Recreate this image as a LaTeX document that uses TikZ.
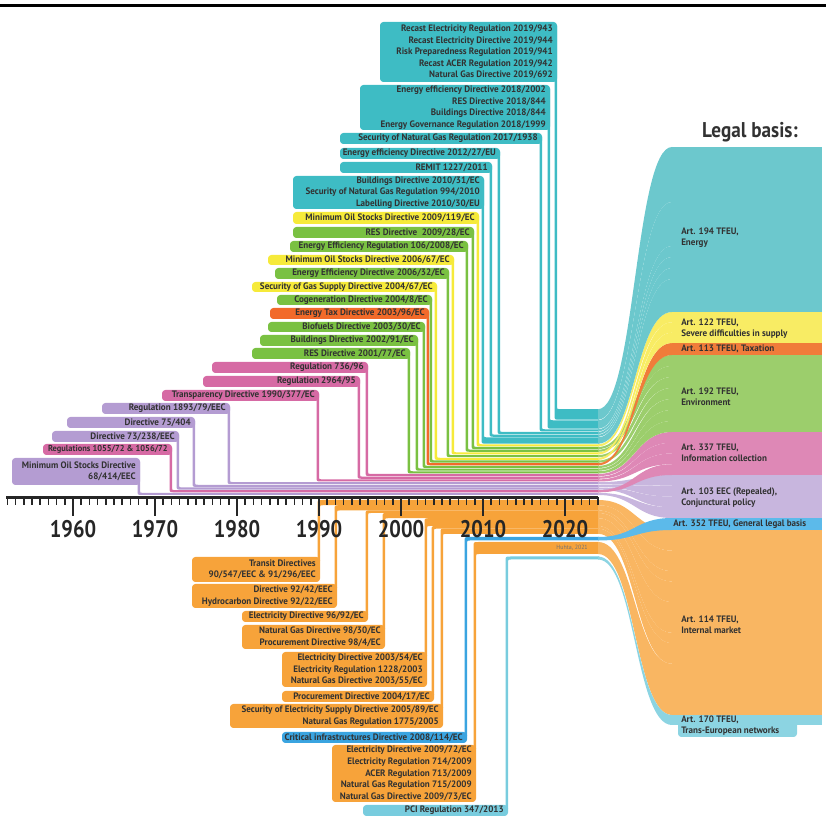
\documentclass[tikz,border=0pt]{standalone}
\usepackage{fontspec}
\setmainfont{PT Sans}
\newfontfamily\lblfont{PT Sans}[FakeStretch=0.97]
\newfontfamily\yrfont{PT Sans}[FakeStretch=0.85]
\newfontfamily\headfont{PT Sans}[FakeStretch=0.9]
\definecolor{txt}{RGB}{50,50,50}
\definecolor{tealB}{RGB}{62,188,196}
\definecolor{tealR}{RGB}{108,200,205}
\definecolor{yelB}{RGB}{246,234,58}
\definecolor{yelR}{RGB}{248,236,100}
\definecolor{grnB}{RGB}{122,193,66}
\definecolor{grnR}{RGB}{156,206,108}
\definecolor{orgB}{RGB}{242,106,42}
\definecolor{orgR}{RGB}{240,124,58}
\definecolor{pnkB}{RGB}{214,106,164}
\definecolor{pnkR}{RGB}{222,136,182}
\definecolor{purB}{RGB}{180,156,210}
\definecolor{purR}{RGB}{200,182,222}
\definecolor{bluB}{RGB}{58,164,224}
\definecolor{bluR}{RGB}{92,186,234}
\definecolor{omB}{RGB}{247,163,58}
\definecolor{omR}{RGB}{249,182,98}
\definecolor{lbB}{RGB}{120,204,222}
\definecolor{lbR}{RGB}{140,212,226}
\tikzset{
  lbl/.style={font=\lblfont\bfseries\fontsize{7.0}{8.7}\selectfont, text=txt, inner sep=0pt, align=right},
  art/.style={font=\lblfont\bfseries\fontsize{7.0}{8.4}\selectfont, text=txt, inner sep=0pt, align=left, anchor=west},
  yr/.style={font=\yrfont\bfseries\fontsize{18}{20}\selectfont, text=black!85, inner sep=0pt},
  minortick/.style={line width=1.1pt, black!85},
  majortick/.style={line width=1.9pt, black!85},
}
% top item: name, colour, L, R, box top, box bottom, band top, band bottom, text
\newcommand\TopItem[9]{%
  \fill[#2] ({#4-2.5},{#5+4}) -- ({#4-2.5},{#8-5}) .. controls ({#4-2.5},#8) .. ({#4+2.5},#8) -- (599,#8) -- (599,#7) -- ({#4+3},#7) .. controls (#4,#7) .. (#4,{#7-3}) -- (#4,{#5+4}) -- cycle;
  \fill[#2, rounded corners=2.5pt] (#3,#5) rectangle (#4,#6);
  \node[lbl, anchor=east] (#1) at ({#4-4},{(#5+#6)/2}) {#9};
}
\newcommand\BotItem[9]{%
  \fill[#2] ({#4-2.5},{#5+4}) -- ({#4-2.5},{#7+5}) .. controls ({#4-2.5},#7) .. ({#4+2.5},#7) -- (599,#7) -- (599,#8) -- ({#4+3},#8) .. controls (#4,#8) .. (#4,{#8+3}) -- (#4,{#5+4}) -- cycle;
  \fill[#2, rounded corners=2.5pt] (#3,#5) rectangle (#4,#6);
  \node[lbl, anchor=east] (#1) at ({#4-4},{(#5+#6)/2}) {#9};
}
% ribbon: colour, left top, left bottom, right top, right bottom
\newcommand\Rib[5]{%
  \fill[#1] (598,#2) .. controls (635,#2) and (635,#4) .. (672,#4) -- (672,#5) .. controls (635,#5) and (635,#3) .. (598,#3) -- cycle;
}
\begin{document}
\begin{tikzpicture}[x=0.75pt,y=-0.75pt]
\useasboundingbox (0,0) rectangle (826,823);
\fill[black] (0,4) rectangle (826,7.5);

% ---------- items above the axis ----------
\TopItem{t1}{tealB}{380}{557}{22}{82}{409.2}{419.7}{Recast Electricity Regulation 2019/943\\Recast Electricity Directive 2019/944\\Risk Preparedness Regulation 2019/941\\Recast ACER Regulation 2019/942\\Natural Gas Directive 2019/692}
\TopItem{t2}{tealB}{360}{550}{85}{130}{420.3}{428.7}{Energy efficiency Directive 2018/2002\\RES Directive 2018/844\\Buildings Directive 2018/844\\Energy Governance Regulation 2018/1999}
\TopItem{t3}{tealB}{340}{542}{133}{144}{429.3}{431.4}{Security of Natural Gas Regulation 2017/1938}
\TopItem{t4}{tealB}{340}{500}{148}{159}{432.0}{434.1}{Energy efficiency Directive 2012/27/EU}
\TopItem{t5}{tealB}{340}{492}{162}{173}{434.7}{436.8}{REMIT 1227/2011}
\TopItem{t6}{tealB}{293}{484}{176}{209}{437.4}{443.7}{Buildings Directive 2010/31/EC\\Security of Natural Gas Regulation 994/2010\\Labelling Directive 2010/30/EU}
\TopItem{t7}{yelB}{293}{479}{212}{224}{444.3}{446.4}{Minimum Oil Stocks Directive 2009/119/EC}
\TopItem{t8}{grnB}{293}{474}{227}{238}{447.0}{449.1}{RES Directive\ \ 2009/28/EC}
\TopItem{t9}{grnB}{290}{468}{241}{252}{449.7}{451.8}{Energy Efficiency Regulation 106/2008/EC}
\TopItem{t10}{yelB}{268}{454}{255}{265}{452.4}{454.5}{Minimum Oil Stocks Directive 2006/67/EC}
\TopItem{t11}{grnB}{275}{449}{268}{279}{455.1}{457.2}{Energy Efficiency Directive 2006/32/EC}
\TopItem{t12}{yelB}{252}{437}{282}{292}{457.8}{459.9}{Security of Gas Supply Directive 2004/67/EC}
\TopItem{t13}{grnB}{277}{432}{295}{305}{460.5}{462.6}{Cogeneration Directive 2004/8/EC}
\TopItem{t14}{orgB}{270}{429}{308}{319}{463.2}{465.3}{Energy Tax Directive 2003/96/EC}
\TopItem{t15}{grnB}{268}{425}{322}{332}{465.9}{468.0}{Biofuels Directive 2003/30/EC}
\TopItem{t16}{grnB}{260}{418}{335}{346}{468.6}{470.7}{Buildings Directive 2002/91/EC}
\TopItem{t17}{grnB}{252}{410}{348}{359}{471.3}{473.4}{RES Directive 2001/77/EC}
\TopItem{t18}{pnkB}{212}{368}{362}{373}{474.0}{476.1}{Regulation 736/96}
\TopItem{t19}{pnkB}{203}{360}{376}{387}{476.7}{478.8}{Regulation 2964/95}
\TopItem{t20}{pnkB}{162}{319}{390}{401}{479.4}{481.5}{Transparency Directive 1990/377/EC}
\TopItem{t21}{purB}{102}{230}{403}{414}{482.1}{484.2}{Regulation 1893/79/EEC}
\TopItem{t22}{purB}{67}{195}{417}{428}{484.8}{486.9}{Directive 75/404}
\TopItem{t23}{purB}{52}{179}{431}{442}{487.5}{489.6}{Directive 73/238/EEC}
\TopItem{t24}{pnkB}{43}{172}{444}{455}{490.2}{492.3}{\fontsize{6.5}{8}\selectfont Regulations 1055/72 \& 1056/72}
\TopItem{t25}{purB}{12}{140}{458}{485}{492.9}{495.0}{Minimum Oil Stocks Directive\\68/414/EEC}

% ---------- items below the axis ----------
\BotItem{b1}{omB}{192}{320}{557}{582}{500.0}{505.2}{Transit Directives\\90/547/EEC \& 91/296/EEC}
\BotItem{b2}{omB}{192}{337}{584}{608}{505.2}{510.4}{Directive 92/42/EEC\\Hydrocarbon Directive 92/22/EEC}
\BotItem{b3}{omB}{242}{368}{611}{622}{510.4}{513.0}{Electricity Directive 96/92/EC}
\BotItem{b4}{omB}{242}{385}{625}{649}{513.0}{518.2}{Natural Gas Directive 98/30/EC\\Procurement Directive 98/4/EC}
\BotItem{b5}{omB}{282}{427}{652}{687}{518.2}{526.0}{Electricity Directive 2003/54/EC\\Electricity Regulation 1228/2003\\Natural Gas Directive 2003/55/EC}
\BotItem{b6}{omB}{282}{434}{691}{702}{526.0}{528.6}{Procurement Directive 2004/17/EC}
\BotItem{b7}{omB}{230}{443}{704}{728}{528.6}{533.8}{Security of Electricity Supply Directive 2005/89/EC\\Natural Gas Regulation 1775/2005}
\BotItem{b8}{bluB}{282}{467}{732}{743}{537.0}{540.5}{Critical infrastructures Directive 2008/114/EC}
\BotItem{b9}{omB}{332}{476}{745}{802}{542.0}{554.0}{Electricity Directive 2009/72/EC\\Electricity Regulation 714/2009\\ACER Regulation 713/2009\\Natural Gas Regulation 715/2009\\Natural Gas Directive 2009/73/EC}
\BotItem{b10}{lbB}{363}{508}{805}{816}{556.5}{559.5}{PCI Regulation 347/2013}

% ---------- ribbons to the legal bases ----------
\Rib{omR}{500.0}{505.2}{530}{550.6}
\Rib{omR}{505.2}{510.4}{550.6}{571.1}
\Rib{omR}{510.4}{513.0}{571.1}{581.4}
\Rib{omR}{513.0}{518.2}{581.4}{602}
\Rib{omR}{518.2}{526.0}{602}{632.8}
\Rib{omR}{526.0}{528.6}{632.8}{643.1}
\Rib{omR}{528.6}{533.8}{643.1}{663.7}
\Rib{omR}{542.0}{554.0}{663.7}{715}
\Rib{lbR}{556.5}{559.5}{715}{725}
\Rib{bluR}{537.0}{540.5}{518}{530}
\Rib{purR}{482.1}{484.2}{475}{485.75}
\Rib{purR}{484.8}{486.9}{485.75}{496.5}
\Rib{purR}{487.5}{489.6}{496.5}{507.25}
\Rib{purR}{492.9}{495.0}{507.25}{518}
\Rib{pnkR}{474.0}{476.1}{432}{442.75}
\Rib{pnkR}{476.7}{478.8}{442.75}{453.5}
\Rib{pnkR}{479.4}{481.5}{453.5}{464.25}
\Rib{pnkR}{490.2}{492.3}{464.25}{475}
\Rib{grnR}{447.0}{449.1}{355}{366}
\Rib{grnR}{449.7}{451.8}{366}{377}
\Rib{grnR}{455.1}{457.2}{377}{388}
\Rib{grnR}{460.5}{462.6}{388}{399}
\Rib{grnR}{465.9}{468.0}{399}{410}
\Rib{grnR}{468.6}{470.7}{410}{421}
\Rib{grnR}{471.3}{473.4}{421}{432}
\Rib{orgR}{463.2}{465.3}{343}{355}
\Rib{yelR}{444.3}{446.4}{312}{322.3}
\Rib{yelR}{452.4}{454.5}{322.3}{332.7}
\Rib{yelR}{457.8}{459.9}{332.7}{343}
\Rib{tealR}{409.2}{419.7}{147}{202}
\Rib{tealR}{420.3}{428.7}{202}{246}
\Rib{tealR}{429.3}{431.4}{246}{257}
\Rib{tealR}{432.0}{434.1}{257}{268}
\Rib{tealR}{434.7}{436.8}{268}{279}
\Rib{tealR}{437.4}{443.7}{279}{312}

% ---------- legal basis bars ----------
\fill[tealR] (671.5,147) rectangle (822,312);
\fill[yelR] (671.5,312) rectangle (822,343);
\fill[orgR] (671.5,343) rectangle (822,355);
\fill[grnR] (671.5,355) rectangle (822,432);
\fill[pnkR] (671.5,432) rectangle (822,475);
\fill[purR] (671.5,475) rectangle (822,518);
\fill[bluR] (671.5,518) rectangle (822,530);
\fill[omR] (671.5,530) rectangle (822,715);
\fill[lbR] (671.5,715) rectangle (822,725);
\fill[lbR, rounded corners=2.5pt] (678,718) rectangle (797,737);

\node[font=\headfont\bfseries\fontsize{16}{18}\selectfont, text=txt, inner sep=0pt] (lb) at (750,132) {Legal basis:};
\node[art] (a194) at (681,237.5) {Art. 194 TFEU,\\Energy};
\node[art] (a122) at (681,329) {Art. 122 TFEU,\\Severe difficulties in supply};
\node[art] (a113) at (681,349) {Art. 113 TFEU, Taxation};
\node[art] (a192) at (681,397) {Art. 192 TFEU,\\Environment};
\node[art] (a337) at (681,453) {Art. 337 TFEU,\\Information collection};
\node[art] (a103) at (681,497.5) {Art. 103 EEC (Repealed),\\Conjunctural policy};
\node[art] (a352) at (673,524) {Art. 352 TFEU, General legal basis};
\node[art] (a114) at (681,624.5) {Art. 114 TFEU,\\Internal market};
\node[art] (a170) at (681,726) {Art. 170 TFEU,\\Trans-European networks};

% ---------- time axis ----------
\draw[line width=2.25pt, black!85] (6,497.5) -- (598,497.5);
\foreach \yr in {1952,...,2024} {
  \pgfmathsetmacro\xx{401+(\yr-2000)*8.2}
  \draw[minortick] (\xx,497.5) -- (\xx,505);
}
\foreach \yr in {1960,1970,...,2020} {
  \pgfmathsetmacro\xx{401+(\yr-2000)*8.2}
  \draw[majortick] (\xx,497.5) -- (\xx,516);
  \node[yr] (y\yr) at (\xx,529) {\yr};
}
\node[font=\lblfont\fontsize{4.6}{5}\selectfont, text=black!55, inner sep=0pt, anchor=east] (src) at (588,547.5) {Huhta, 2021};
\end{tikzpicture}
\end{document}
